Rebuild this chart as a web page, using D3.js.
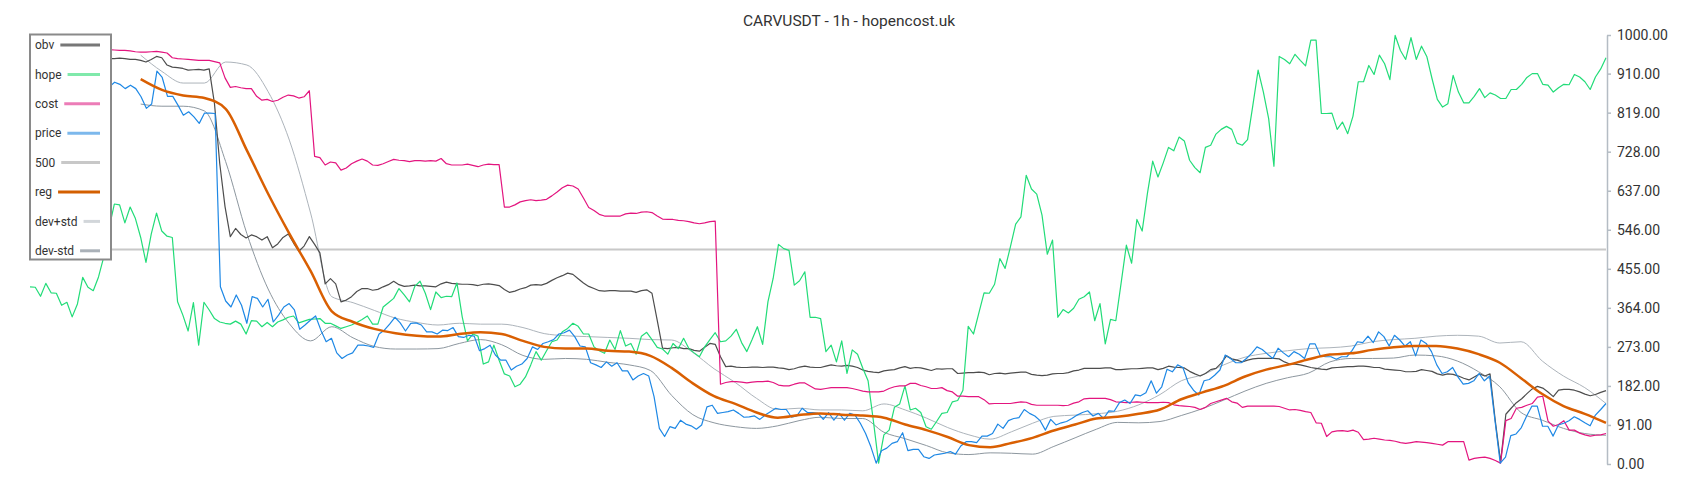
<!DOCTYPE html>
<html><head><meta charset="utf-8">
<script src="https://cdn.jsdelivr.net/npm/d3@7"></script>
<style>
body{margin:0;background:#fff;}
svg text{font-family:Roboto,"Noto Sans",Arial,sans-serif;}
</style>
</head><body>
<svg id="chart" width="1700" height="500"></svg>
<script>
// ---------------- data ----------------
const chartTitle = "CARVUSDT - 1h - hopencost.uk";
const yTickValues = [0, 91, 182, 273, 364, 455, 546, 637, 728, 819, 910, 1000];
const legendNames = ["obv", "hope", "cost", "price", "500", "reg", "dev+std", "dev-std"];
const hoursTotal = 300;          // hourly candles on the chart
const bandStartHour = 21;        // first hour where reg / dev bands exist
const level500 = 500;

const hope = [413,412,391,421,399,398,370,377,343,373,
435,412,404,436,483,550,606,604,562,599,
572,528,470,536,585,543,531,528,378,347,
310,376,277,377,359,339,331,328,326,333,
326,303,334,333,320,330,320,331,336,342,
345,329,333,337,338,339,328,328,322,316,
320,324,330,337,345,326,326,366,376,386,
409,394,378,414,426,398,360,401,388,391,
390,422,343,287,303,298,233,238,277,242,
210,205,180,186,203,231,262,242,264,285,
289,308,316,328,321,303,303,273,264,258,
289,267,311,275,281,256,298,307,290,272,
268,256,281,269,293,269,259,250,273,290,
306,285,287,298,314,283,262,290,320,279,
378,433,512,502,498,417,427,448,342,342,
339,262,277,238,287,211,266,256,223,194,
101,2,68,79,132,140,182,126,130,120,
87,81,99,118,120,145,148,172,321,303,
351,399,398,419,479,456,506,559,576,673,
641,629,580,489,522,342,360,352,363,384,
390,401,334,374,280,337,334,421,510,468,
570,543,631,706,669,702,738,730,762,753,
708,691,679,738,743,769,780,787,780,748,
743,756,836,918,867,805,694,950,943,933,
955,941,928,988,988,817,817,818,780,797,
770,811,891,891,929,908,953,933,896,999,
964,943,994,943,974,950,898,850,832,840,
906,867,842,842,857,875,854,865,860,852,
852,873,873,885,901,910,910,885,883,867,
877,885,884,908,902,891,873,902,921,947];

const N15 = [null,null,null,null,null,null,null,null,null,null,null,null,null,null,null];

const price = N15.concat([879,890,885,875,883,
875,856,829,839,916,901,857,857,836,813,
821,809,794,818,818,817,413,380,366,394,
370,328,390,386,366,384,331,347,366,374,
359,314,324,335,345,312,285,293,259,246,
254,259,277,277,275,272,303,312,326,342,
329,310,328,329,324,308,308,303,312,311,
318,297,295,300,298,264,269,277,254,242,
242,219,228,233,246,273,267,281,285,290,
303,306,312,297,275,273,236,231,225,238,
228,236,217,217,196,205,211,205,157,83,
64,87,83,102,93,89,81,91,133,137,
118,120,122,126,118,109,110,112,104,114,
122,130,127,127,109,112,130,120,120,118,
104,120,102,118,102,118,114,95,71,40,
2,31,37,48,52,73,31,34,34,17,
13,21,23,25,29,23,42,52,52,50,
65,65,71,93,83,101,106,108,127,118,
112,101,79,104,91,96,99,106,114,120,
124,112,118,106,124,123,143,149,141,161,
159,166,194,165,180,221,215,231,225,189,
172,161,194,197,207,219,254,246,236,236,
246,258,273,267,256,246,270,259,250,262,
256,246,280,280,252,250,250,244,250,250,
265,285,283,298,283,308,297,275,300,289,
275,285,252,289,281,262,231,211,215,225,
203,186,188,194,211,194,205,102,2,16,
66,70,85,112,135,135,88,88,65,91,
95,101,110,104,96,89,114,127,141]);

const cost = N15.concat([966,965,964,964,963,
961,960,960,961,962,960,958,947,945,944,
943,942,941,941,941,938,935,900,878,880,
877,875,875,857,848,850,845,848,855,860,
858,853,856,870,717,714,697,704,702,685,
690,700,706,711,706,697,696,700,705,710,
708,707,705,707,707,706,707,706,712,700,
697,697,697,699,696,693,697,699,698,698,
599,599,604,611,614,616,614,615,617,625,
634,644,650,648,641,620,598,591,582,578,
578,578,578,583,585,584,587,588,586,578,
571,570,570,568,567,565,562,560,562,565,
566,186,190,192,192,191,189,191,192,192,
193,190,184,182,182,186,189,189,182,175,
174,176,178,178,178,178,176,173,170,168,
168,168,170,176,180,182,182,188,188,183,
180,176,176,178,171,168,158,158,157,157,
157,150,140,141,141,141,141,143,145,144,
139,137,137,137,137,137,136,137,142,145,
152,153,153,153,153,150,145,144,143,144,
145,144,143,143,143,144,143,138,136,135,
134,132,127,132,141,145,149,153,145,142,
132,135,135,135,135,135,135,134,130,126,
127,125,122,120,96,95,64,75,77,78,
76,79,74,57,58,60,58,56,55,53,
50,48,50,52,51,50,48,46,44,52,
52,52,52,9,13,15,16,13,8,2,
101,106,130,132,137,141,156,158,100,88,
92,101,79,79,72,68,65,67,68,71]);

const obv = N15.concat([945,945,946,945,943,
943,941,937,943,950,947,930,925,924,922,
918,919,920,918,921,840,700,600,530,549,
535,527,534,530,522,530,504,513,528,536,
515,496,508,530,512,492,420,432,420,378,
382,390,402,409,409,405,407,413,418,426,
418,414,415,417,415,415,414,413,420,424,
421,420,419,419,418,416,419,420,418,416,
407,400,403,408,411,417,418,417,421,428,
434,439,445,442,432,422,414,409,404,403,
404,404,403,403,403,400,404,406,398,335,
270,269,271,272,269,269,265,263,272,281,
279,250,227,228,226,225,225,226,226,225,
226,226,224,223,220,222,226,228,226,225,
225,228,231,229,228,230,228,225,219,216,
214,213,217,219,220,224,227,223,225,224,
221,218,222,221,222,222,211,212,213,213,
214,213,208,211,212,210,212,213,214,214,
209,207,206,207,210,211,211,213,217,219,
223,223,223,223,224,224,220,220,221,222,
222,223,224,224,220,223,228,226,225,224,
216,210,205,211,220,223,235,252,245,242,
238,242,245,246,246,246,246,245,238,233,
233,231,228,225,223,221,220,224,225,226,
227,227,228,228,227,225,225,221,220,219,
218,215,215,216,220,218,216,210,207,210,
209,205,200,196,203,210,205,210,100,5,
116,130,143,152,164,175,181,177,168,157,
172,174,174,172,168,163,159,162,167,171]);

const reg = [897,872,859,853,828,731,630,537,450,356,
331,315,305,299,297,303,307,303,287,273,
269,269,264,262,252,224,188,158,140,120,
108,114,118,115,113,108,92,79,63,44,
39,49,61,78,92,106,110,117,127,151,
167,182,204,220,231,244,255,258,266,272,
275,275,269,256,236,200,163,135,117,96];

const devPlusStd = [953,915,888,888,937,930,868,755,585,390,
376,358,340,330,324,328,326,326,318,304,
299,297,295,293,290,289,260,222,190,153,
127,130,126,126,124,140,126,107,85,68,
58,75,95,111,114,117,123,138,162,194,
208,231,249,258,264,269,271,275,285,290,
293,298,300,298,282,285,240,205,178,141];

const devMinusStd = [839,834,834,823,705,537,408,327,287,320,
294,274,268,268,269,281,290,278,253,244,
246,244,237,231,218,160,115,96,87,83,
89,101,109,106,106,74,59,43,26,22,
26,25,23,41,61,81,97,96,99,113,
129,149,170,188,201,212,238,246,246,247,
254,252,240,215,180,120,102,83,71,67];

// ---------------- drawing ----------------
const svg = d3.select("#chart");
const lastHour = hoursTotal - 1;
const x = d3.scaleLinear().domain([0, lastHour]).range([30, 1606]);
const y = d3.scaleLinear().domain([0, 1000]).range([464, 35]);

function toPoints(values, startHour) {
  const n = values.length;
  return values.map((v, j) => ({h: startHour + j * (lastHour - startHour) / (n - 1), v}));
}

const styles = {
  "obv":     {color: "#4d4d4d", w: 1.2, curve: d3.curveLinear},
  "hope":    {color: "#22dc78", w: 1.2, curve: d3.curveLinear},
  "cost":    {color: "#e3157f", w: 1.2, curve: d3.curveLinear},
  "price":   {color: "#1e88e5", w: 1.2, curve: d3.curveLinear},
  "500":     {color: "#c8c8c8", w: 2,   curve: d3.curveLinear},
  "reg":     {color: "#d95f02", w: 2.5, curve: d3.curveMonotoneX},
  "dev+std": {color: "#adb4bb", w: 1,   curve: d3.curveMonotoneX},
  "dev-std": {color: "#8d979f", w: 1,   curve: d3.curveMonotoneX}
};
const legendColors = {
  "obv": "#777", "hope": "#80e9ab", "cost": "#ec7cb7", "price": "#7cb8ec",
  "500": "#c8c8c8", "reg": "#d35f00", "dev+std": "#d2d6da", "dev-std": "#aab1b8"
};

const seriesData = {
  "obv": toPoints(obv, 0),
  "hope": toPoints(hope, 0),
  "cost": toPoints(cost, 0),
  "price": toPoints(price, 0),
  "500": toPoints([level500, level500], 0),
  "reg": toPoints(reg, bandStartHour),
  "dev+std": toPoints(devPlusStd, bandStartHour),
  "dev-std": toPoints(devMinusStd, bandStartHour)
};

// title
svg.append("text").attr("x", 849).attr("y", 26).attr("text-anchor", "middle")
  .attr("font-size", "15.5px").attr("fill", "#333").text(chartTitle);

// lines (500 line at the back)
const drawOrder = ["500", "dev+std", "dev-std", "obv", "hope", "cost", "price", "reg"];
drawOrder.forEach(name => {
  const st = styles[name];
  const line = d3.line().defined(d => d.v != null)
    .x(d => x(d.h)).y(d => y(d.v)).curve(st.curve);
  svg.append("path").datum(seriesData[name])
    .attr("d", line).attr("fill", "none")
    .attr("stroke", st.color).attr("stroke-width", st.w)
    .attr("stroke-linejoin", "round");
});

// right axis
const axis = d3.axisRight(y).tickValues(yTickValues)
  .tickFormat(d3.format(".2f")).tickSize(4).tickSizeOuter(0).tickPadding(6);
const ag = svg.append("g").attr("transform", "translate(1607,0)").call(axis);
ag.select(".domain").attr("stroke", "#b4bcc4").attr("stroke-width", 1.5);
ag.selectAll(".tick line").attr("stroke", "#b4bcc4").attr("stroke-width", 1.5);
ag.selectAll(".tick text").attr("fill", "#333").attr("font-size", "14px")
  .attr("font-family", "Roboto, 'Noto Sans', Arial, sans-serif");

// legend
const lg = svg.append("g");
lg.append("rect").attr("x", 30).attr("y", 34.5).attr("width", 81).attr("height", 225)
  .attr("fill", "#fff").attr("stroke", "#8a8a8a").attr("stroke-width", 2);
legendNames.forEach((name, i) => {
  const cy = 45 + i * 29.4;
  const t = lg.append("text").attr("x", 35).attr("y", cy).attr("dy", "0.35em")
    .attr("font-size", "12px").attr("fill", "#333").text(name);
  const tw = t.node().getComputedTextLength();
  lg.append("line").attr("x1", 35 + tw + 6).attr("x2", 100)
    .attr("y1", cy).attr("y2", cy)
    .attr("stroke", legendColors[name]).attr("stroke-width", 3);
});
</script>
</body></html>
